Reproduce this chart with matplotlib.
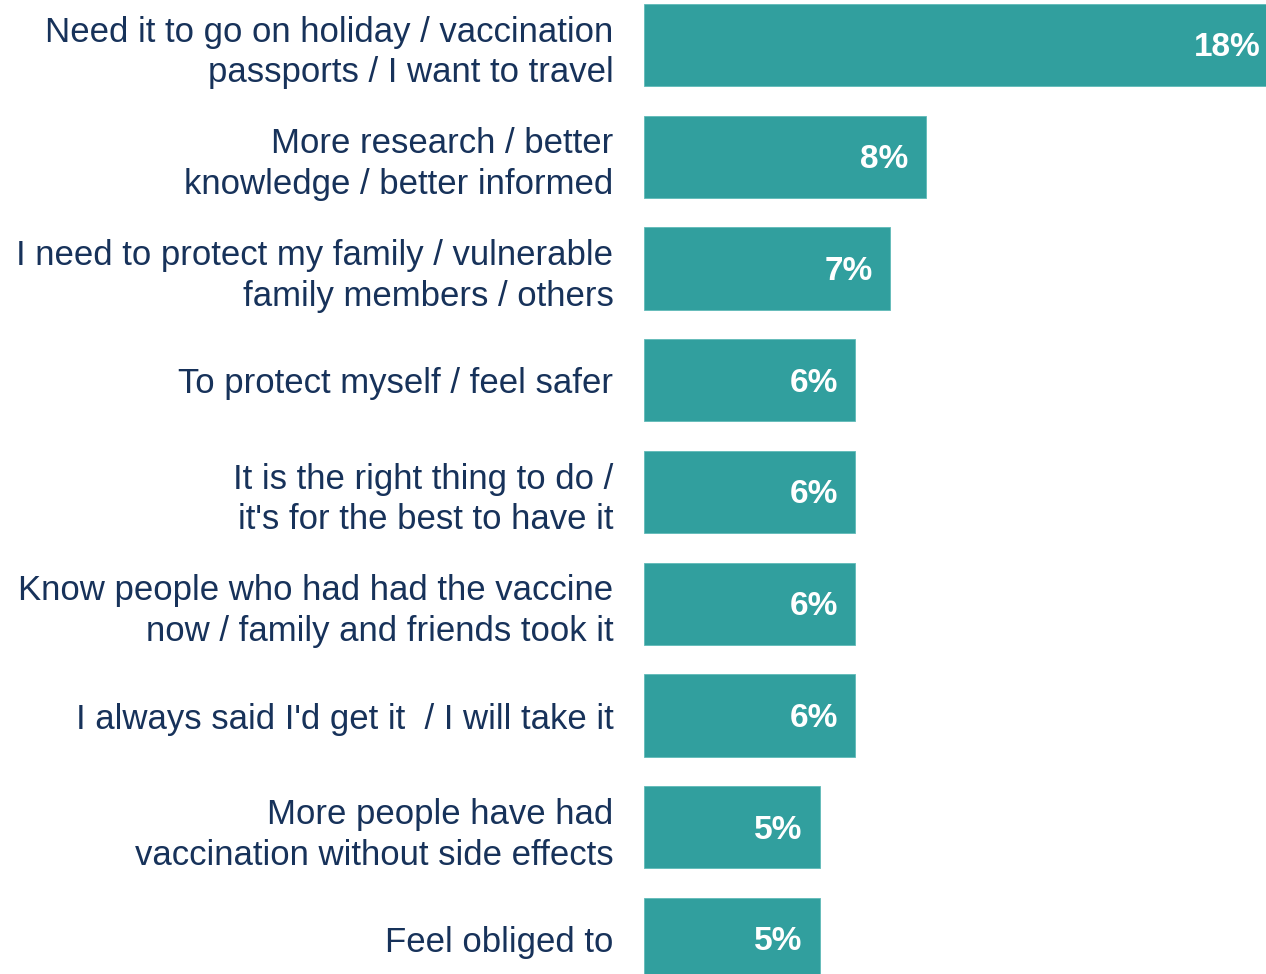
import matplotlib.pyplot as plt

categories = [
    'Need it to go on holiday / vaccination\npassports / I want to travel',
    'More research / better\nknowledge / better informed',
    'I need to protect my family / vulnerable\nfamily members / others',
    'To protect myself / feel safer',
    "It is the right thing to do /\nit's for the best to have it",
    'Know people who had had the vaccine\nnow / family and friends took it',
    "I always said I'd get it  / I will take it",
    'More people have had\nvaccination without side effects',
    'Feel obliged to',
]
values = [18, 8, 7, 6, 6, 6, 6, 5, 5]
value_labels = ['18%', '8%', '7%', '6%', '6%', '6%', '6%', '5%', '5%']

bar_color = '#319f9e'
text_color = '#17325a'

plt.rcParams['font.family'] = ['Liberation Sans', 'DejaVu Sans']

fig = plt.figure(figsize=(12.66, 9.74), dpi=100)
ax = fig.add_axes([644 / 1266, 0, 622 / 1266, 1])

pos = list(range(len(categories)))
ax.barh(pos, values, height=0.735, color=bar_color, edgecolor='#5fbab8', linewidth=0.6)

ax.set_xlim(0, 622 / 35.2)
ax.set_ylim(8.313, -0.403)

ax.set_yticks(pos)
ax.set_yticklabels(categories, fontsize=25, color=text_color, linespacing=1.3)
ax.tick_params(axis='y', length=0, pad=22)
ax.set_xticks([])

for spine in ax.spines.values():
    spine.set_visible(False)

for i, (v, lab) in enumerate(zip(values, value_labels)):
    ax.annotate(lab, xy=(v, i), xytext=(-12.5, -2), textcoords='offset points',
                ha='right', va='center', fontsize=24, fontweight='bold',
                color='white', annotation_clip=False)

fig.savefig('out.png', dpi=100)
